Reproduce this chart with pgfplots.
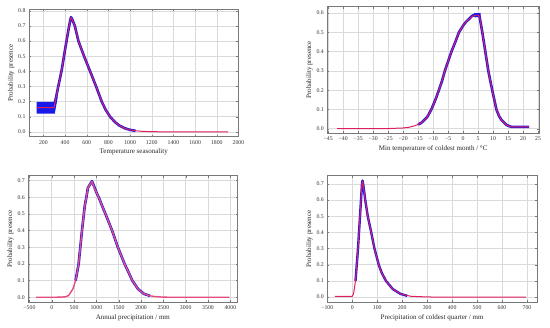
\documentclass[border=0pt]{standalone}
\usepackage{pgfplots}
\pgfplotsset{compat=1.18}
\usepackage{fontspec}
\setmainfont{Liberation Serif}
\definecolor{redl}{RGB}{222,30,95}
\definecolor{bandblue}{RGB}{25,25,235}
\definecolor{framec}{RGB}{120,120,120}
\definecolor{gridc}{RGB}{218,218,218}
\pgfplotsset{myax/.style={
  scale only axis,
  axis line style={framec, line width=0.6pt},
  grid=major, grid style={gridc, line width=0.5pt},
  tick style={framec, line width=0.4pt},
  major tick length=2pt, tick align=inside,
  xtick pos=both, ytick pos=both,
  ticklabel style={font=\fontsize{5.8}{6}\selectfont, text=black!80},
  label style={font=\fontsize{7}{8}\selectfont, text=black!85},
  ylabel={Probability presence},
  xlabel shift=-2pt, ylabel shift=-3pt,
  every axis plot/.append style={line join=round},
}}
\begin{document}
\begin{tikzpicture}
\useasboundingbox (0,0) rectangle (550pt,328pt);
% Panel 1
\begin{axis}[myax, at={(29pt,191.3pt)}, anchor=south west, width=209.5pt, height=127.4pt,
  xmin=67, xmax=2000, ymin=-0.032, ymax=0.81,
  xtick={200,400,...,2000}, xticklabels={200,400,600,800,1000,1200,1400,1600,1800,2000},
  ytick={0,0.1,0.2,0.3,0.4,0.5,0.6,0.7,0.8}, yticklabels={0.0,0.1,0.2,0.3,0.4,0.5,0.6,0.7,0.8},
  xlabel={Temperature seasonality}]
\addplot[fill=bandblue, draw=none] coordinates {(138,0.121) (305,0.121) (332,0.23) (312,0.23) (293,0.198) (138,0.198)} -- cycle;
\addplot[bandblue, line width=2.6pt] coordinates {(298,0.16) (320,0.24) (340,0.31) (369,0.41) (406,0.57) (430,0.67) (448,0.74) (455,0.758) (465,0.745) (490,0.70) (523,0.60) (575,0.50) (631,0.40) (686,0.30) (738,0.20) (775,0.145) (815,0.10) (860,0.065) (900,0.042) (950,0.024) (1000,0.013) (1050,0.007)};
\addplot[redl, line width=1pt] coordinates {(138,0.16) (298,0.16) (320,0.24) (340,0.31) (369,0.41) (406,0.57) (430,0.67) (448,0.74) (455,0.755) (465,0.745) (490,0.70) (523,0.60) (575,0.50) (631,0.40) (686,0.30) (738,0.20) (775,0.145) (815,0.10) (860,0.065) (900,0.042) (950,0.024) (1000,0.013) (1050,0.007) (1100,0.004) (1200,0.001) (1300,0.0003) (1400,0) (1905,0)};
\end{axis}
% Panel 2
\begin{axis}[myax, at={(327.3pt,195pt)}, anchor=south west, width=211.7pt, height=126.3pt,
  xmin=-45.3, xmax=25.3, ymin=-0.022, ymax=0.633,
  xtick={-45,-40,...,25}, xticklabels={−45,−40,−35,−30,−25,−20,−15,−10,−5,0,5,10,15,20,25},
  ytick={0,0.1,0.2,0.3,0.4,0.5,0.6}, yticklabels={0.0,0.1,0.2,0.3,0.4,0.5,0.6},
  xlabel={Min temperature of coldest month / °C}]
\addplot[fill=bandblue, draw=none] coordinates {(3.3,0.585) (3.8,0.6) (5.8,0.6) (5.9,0.58) (4,0.578)} -- cycle;
\addplot[bandblue, line width=2.6pt] coordinates {(-15,0.022) (-14,0.03) (-12,0.06) (-10.6,0.1) (-9,0.16) (-8.1,0.2) (-7,0.25) (-6.1,0.3) (-5,0.35) (-3.9,0.4) (-2.6,0.45) (-1.4,0.5) (0,0.535) (1,0.555) (2,0.57) (3,0.585) (4,0.592) (5,0.594) (5.5,0.58) (6.4,0.5) (7.4,0.4) (8.4,0.3) (9.7,0.2) (11.1,0.1) (12,0.065) (12.8,0.045) (14.4,0.02) (16,0.01) (22,0.01)};
\addplot[redl, line width=1pt] coordinates {(-42,0) (-30,0) (-25,0.001) (-20,0.004) (-18,0.008) (-16,0.016) (-14,0.03) (-12,0.06) (-10.6,0.1) (-9,0.16) (-8.1,0.2) (-7,0.25) (-6.1,0.3) (-5,0.35) (-3.9,0.4) (-2.6,0.45) (-1.4,0.5) (0,0.535) (1,0.555) (2,0.57) (3,0.582) (4,0.588) (5,0.59) (5.5,0.58) (6.4,0.5) (7.4,0.4) (8.4,0.3) (9.7,0.2) (11.1,0.1) (12,0.065) (12.8,0.045) (14.4,0.02) (16,0.01) (22,0.01)};
\end{axis}
% Panel 3
\begin{axis}[myax, at={(28.3pt,25.7pt)}, anchor=south west, width=209.2pt, height=126.6pt,
  xmin=-525, xmax=4160, ymin=-0.03, ymax=0.73,
  xtick={-500,0,...,4000}, xticklabels={−500,0,500,1000,1500,2000,2500,3000,3500,4000},
  ytick={0,0.1,0.2,0.3,0.4,0.5,0.6,0.7}, yticklabels={0.0,0.1,0.2,0.3,0.4,0.5,0.6,0.7},
  xlabel={Annual precipitation / mm}]
\addplot[bandblue, line width=2.6pt] coordinates {(534,0.1) (602,0.2) (677,0.4) (740,0.55) (775,0.6) (812,0.66) (830,0.665) (860,0.68) (902,0.697) (950,0.665) (1000,0.63) (1053,0.6) (1203,0.5) (1353,0.4) (1481,0.3) (1632,0.2) (1720,0.15) (1805,0.1) (1932,0.05) (2068,0.02) (2200,0.009)};
\addplot[redl!80!white, line width=1.4pt] coordinates {(-350,0) (0,0) (200,0.001) (300,0.003) (376,0.01) (474,0.05) (534,0.1) (602,0.2) (677,0.4) (740,0.55) (775,0.6) (812,0.66) (830,0.665) (860,0.68) (902,0.695) (950,0.66) (1000,0.63) (1053,0.6) (1203,0.5) (1353,0.4) (1481,0.3) (1632,0.2) (1720,0.15) (1805,0.1) (1932,0.05) (2068,0.02) (2200,0.009) (2293,0.005) (2500,0.001) (2700,0) (3980,0)};
\end{axis}
% Panel 4
\begin{axis}[myax, at={(327.3pt,25.7pt)}, anchor=south west, width=209.7pt, height=126.6pt,
  xmin=-100, xmax=740, ymin=-0.032, ymax=0.75,
  xtick={-100,0,...,700}, xticklabels={−100,0,100,200,300,400,500,600,700},
  ytick={0,0.1,0.2,0.3,0.4,0.5,0.6,0.7}, yticklabels={0.0,0.1,0.2,0.3,0.4,0.5,0.6,0.7},
  xlabel={Precipitation of coldest quarter / mm}]
\addplot[bandblue, line width=2.4pt] coordinates {(13,0.1) (18,0.2) (23,0.3) (27,0.4) (31,0.5) (35,0.6) (39,0.7) (41,0.72) (45,0.685) (52,0.6) (62,0.5) (76,0.4) (89,0.3) (106,0.2) (118,0.15) (135,0.1) (162,0.05) (193,0.02) (220,0.008)};
\addplot[redl, line width=1pt] coordinates {(-70,0.005) (0,0.005) (5,0.02) (13,0.1) (18,0.2) (23,0.3) (27,0.4) (31,0.5) (35,0.6) (39,0.7) (41,0.717) (45,0.68) (52,0.6) (62,0.5) (76,0.4) (89,0.3) (106,0.2) (118,0.15) (135,0.1) (162,0.05) (193,0.02) (235,0.005) (300,0.001) (350,0) (696,0)};
\end{axis}
\end{tikzpicture}
\end{document}
